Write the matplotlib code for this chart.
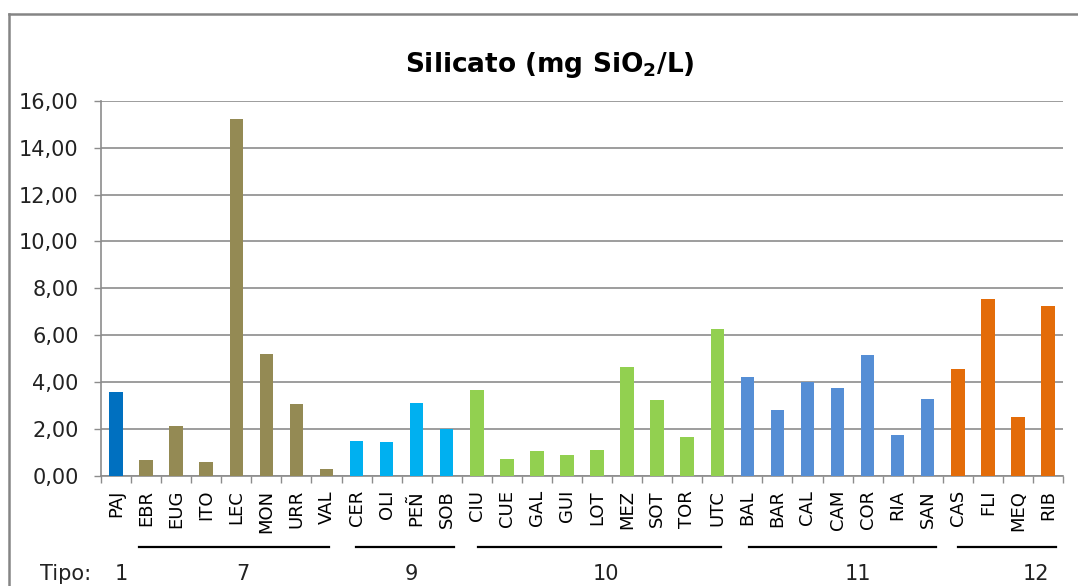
import matplotlib
matplotlib.use("Agg")
import matplotlib.pyplot as plt
import matplotlib.transforms as mtransforms
from matplotlib.lines import Line2D
import numpy as np

# data
sites = ["PAJ", "EBR", "EUG", "ITO", "LEC", "MON", "URR", "VAL",
         "CER", "OLI", "PEÑ", "SOB",
         "CIU", "CUE", "GAL", "GUI", "LOT", "MEZ", "SOT", "TOR", "UTC",
         "BAL", "BAR", "CAL", "CAM", "COR", "RIA", "SAN",
         "CAS", "FLI", "MEQ", "RIB"]
silicato = [3.57, 0.67, 2.14, 0.61, 15.20, 5.21, 3.08, 0.28,
            1.49, 1.43, 3.13, 2.00,
            3.68, 0.72, 1.05, 0.88, 1.11, 4.66, 3.24, 1.65, 6.25,
            4.22, 2.80, 3.99, 3.74, 5.14, 1.76, 3.30,
            4.55, 7.56, 2.53, 7.23]
tipo = [1, 7, 7, 7, 7, 7, 7, 7,
        9, 9, 9, 9,
        10, 10, 10, 10, 10, 10, 10, 10, 10,
        11, 11, 11, 11, 11, 11, 11,
        12, 12, 12, 12]
y_ticks = [0, 2, 4, 6, 8, 10, 12, 14, 16]

TIPO_COLORS = {
    1: "#0070C0",
    7: "#948A54",
    9: "#00B0F0",
    10: "#92D050",
    11: "#558ED5",
    12: "#E36C09",
}
# layout of the group underlines and the "Tipo" numbers (x in category units)
GROUP_SPANS = {7: (0.77, 7.08), 9: (7.99, 11.25), 10: (12.03, 20.13),
               11: (21.04, 27.29), 12: (28.0, 31.27)}
TIPO_LABEL_X = {1: 0.16, 7: 4.22, 9: 9.82, 10: 16.3, 11: 24.67, 12: 30.59}

GRID = "#8C8C8C"
TEXT = "#222222"

fig = plt.figure(figsize=(10.78, 5.86), dpi=100)
ax = fig.add_axes([101 / 1078, 1 - 476 / 586, (1063 - 101) / 1078, (476 - 100.7) / 586])

x = np.arange(len(sites))
colors = [TIPO_COLORS[t] for t in tipo]
ax.bar(x, silicato, width=0.45, color=colors, zorder=3)

ax.set_xlim(-0.5, len(sites) - 0.5)
ax.set_ylim(0, 16)
ax.set_yticks(y_ticks)
ax.set_yticklabels([f"{v:.2f}".replace(".", ",") for v in y_ticks], fontsize=15, color=TEXT)
ax.yaxis.grid(True, color=GRID, linewidth=1.2, zorder=0)
ax.tick_params(axis="y", length=5, width=1.0, color=GRID, pad=11)

# ticks at category boundaries, labels at category centres
ax.set_xticks(np.arange(len(sites) + 1) - 0.5)
ax.set_xticklabels([])
ax.set_xticks(x, minor=True)
ax.set_xticklabels(sites, minor=True, rotation=90, fontsize=13, va="top", ha="center")
ax.tick_params(axis="x", which="major", length=5, width=1.0, color=GRID)
ax.tick_params(axis="x", which="minor", length=0, pad=10)

for side in ["top", "right"]:
    ax.spines[side].set_visible(False)
for side in ["left", "bottom"]:
    ax.spines[side].set_color(GRID)
    ax.spines[side].set_linewidth(1.2)

fig.text(550 / 1078, 1 - 72 / 586, r"Silicato (mg SiO$_\mathbf{2}$/L)",
         fontsize=19, fontweight="bold", ha="center", va="baseline")

trans = mtransforms.blended_transform_factory(ax.transData, fig.transFigure)
for t, (x0, x1) in GROUP_SPANS.items():
    fig.add_artist(Line2D([x0, x1], [1 - 547 / 586] * 2, transform=trans,
                          color="black", linewidth=1.6))
for t, xl in TIPO_LABEL_X.items():
    fig.text(xl, 1 - 580 / 586, str(t), transform=trans, fontsize=15,
             ha="center", va="baseline", color=TEXT)
fig.text(40 / 1078, 1 - 580 / 586, "Tipo:", fontsize=15, ha="left",
         va="baseline", color=TEXT)

# outer chart frame (left and top edges visible)
fig.add_artist(Line2D([9 / 1078, 9 / 1078], [0, 1 - 14 / 586],
                      transform=fig.transFigure, color="#858585", linewidth=1.8))
fig.add_artist(Line2D([9 / 1078, 1], [1 - 14 / 586, 1 - 14 / 586],
                      transform=fig.transFigure, color="#858585", linewidth=1.8))

fig.savefig("out.png", dpi=100)
